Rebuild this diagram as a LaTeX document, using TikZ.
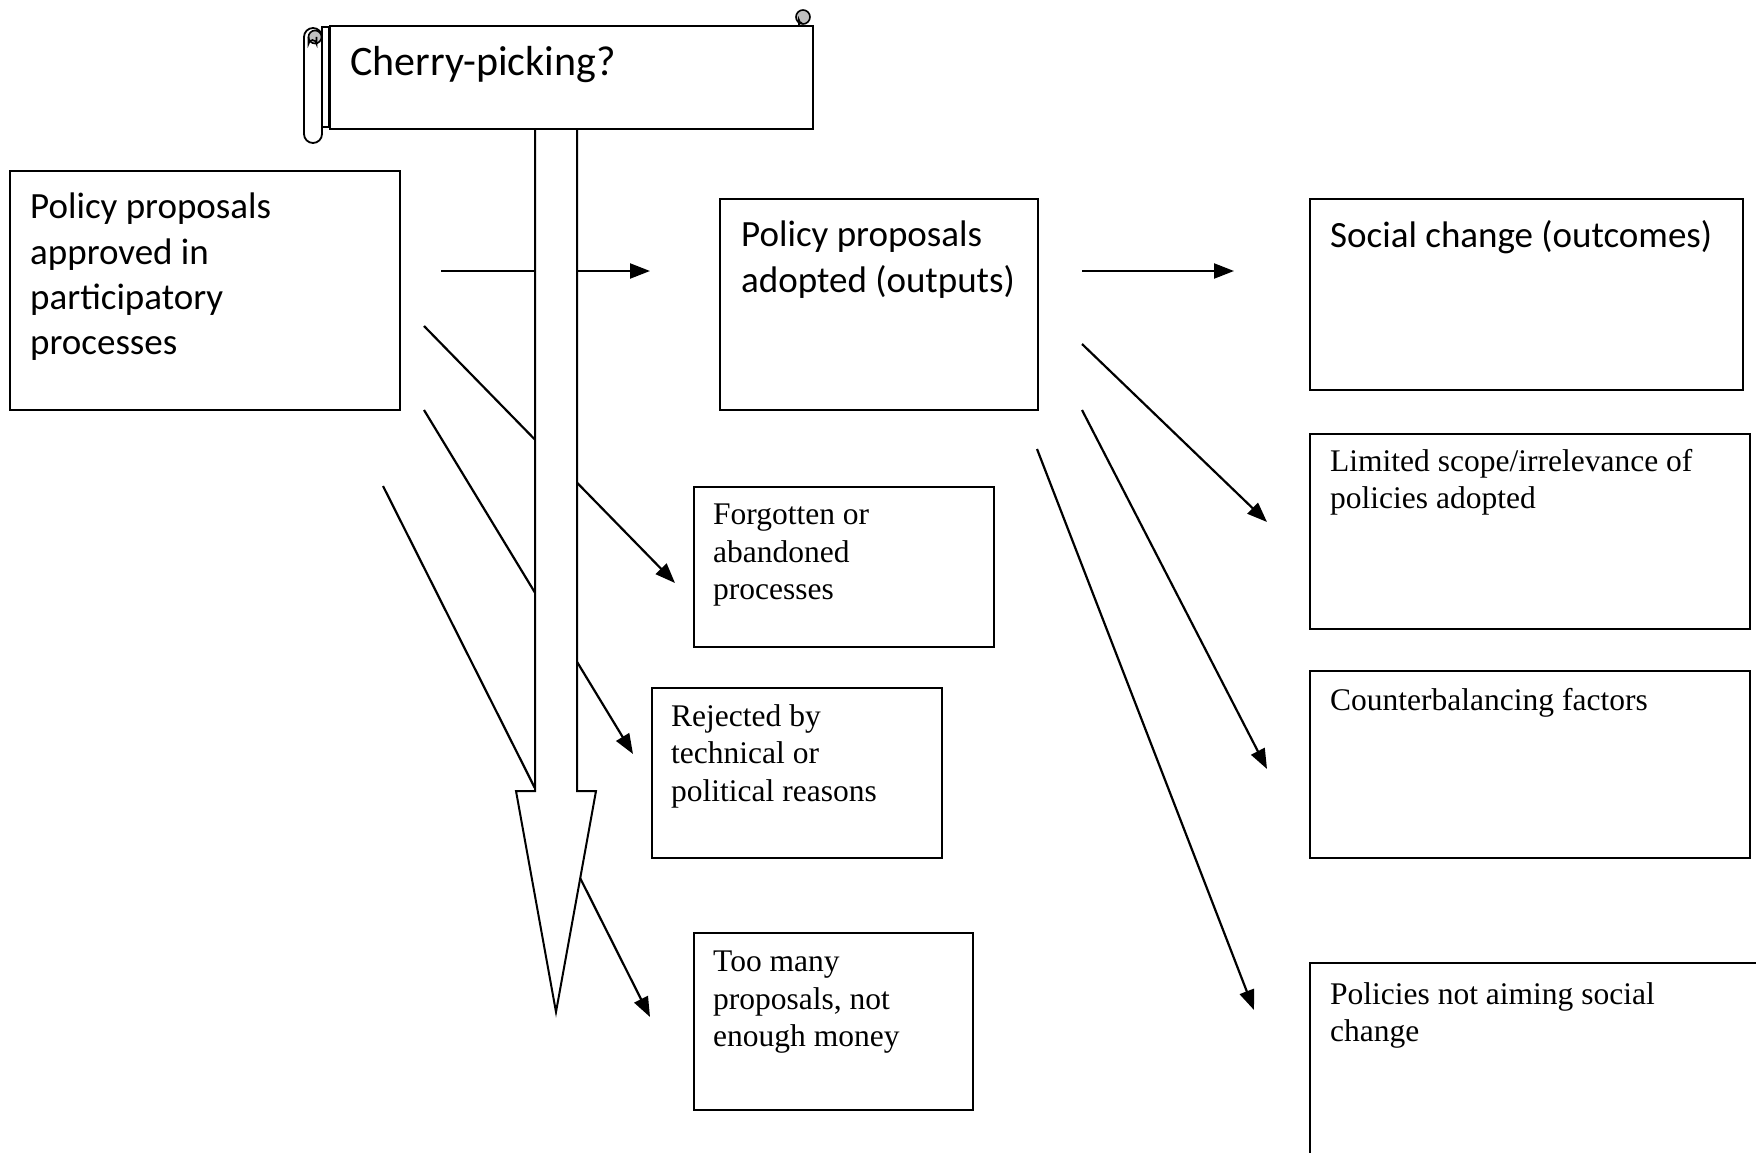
\documentclass[tikz,border=0pt]{standalone}
\usepackage{fontspec}
\setmainfont{Liberation Serif}
\newfontfamily\calibri{Carlito}
\usetikzlibrary{arrows.meta,calc}
\begin{document}
\begin{tikzpicture}[x=1pt,y=-1pt,
  box/.style={draw, line width=2pt, fill=white, inner sep=0pt, anchor=north west},
  cal/.style={font=\calibri\fontsize{37}{45.2}\selectfont, align=left, anchor=north west, inner sep=0pt},
  tim/.style={font=\fontsize{31.5}{37.5}\selectfont, align=left, anchor=north west, inner sep=0pt},
  conn/.style={line width=2.2pt, -{Triangle[length=20pt,width=15pt]}},
  outline/.style={draw, line width=2pt, fill=white, line join=miter}]
\path[use as bounding box] (0,0) rectangle (1756,1153);
\clip (0,0) rectangle (1756,1153);

% boxes
\node[box, minimum width=390pt, minimum height=239pt] (A) at (9,170) {};
\node[box, minimum width=318pt, minimum height=211pt] (B) at (719,198) {};
\node[box, minimum width=433pt, minimum height=191pt] (C) at (1309,198) {};
\node[box, minimum width=440pt, minimum height=195pt] (D) at (1309,433) {};
\node[box, minimum width=440pt, minimum height=187pt] (E) at (1309,670) {};
\node[box, minimum width=500pt, minimum height=300pt] (F) at (1309,962) {};
\node[box, minimum width=300pt, minimum height=160pt] (G) at (693,486) {};
\node[box, minimum width=290pt, minimum height=170pt] (H) at (651,687) {};
\node[box, minimum width=279pt, minimum height=177pt] (I) at (693,932) {};

% texts
\node[cal] (At) at (30,193) {Policy proposals\\approved in\\participatory\\processes};
\node[cal] (Bt) at (741,221) {Policy proposals\\adopted (outputs)};
\node[cal] (Ct) at (1330,220) {Social change (outcomes)};
\node[tim] (Dt) at (1330,449) {Limited scope/irrelevance of\\policies adopted};
\node[tim] (Et) at (1330,688) {Counterbalancing factors};
\node[tim] (Ft) at (1330,982) {Policies not aiming social\\change};
\node[tim] (Gt) at (713,504) {Forgotten or\\abandoned\\processes};
\node[tim] (Ht) at (671,704) {Rejected by\\technical or\\political reasons};
\node[tim] (It) at (713,951) {Too many\\proposals, not\\enough money};

% connector end points
\coordinate (a1) at (441,271);   \coordinate (a1e) at (650,271);
\coordinate (b1) at (1082,271);  \coordinate (b1e) at (1234,271);
\coordinate (a2) at (424,326);   \coordinate (a2e) at (675,583);
\coordinate (a3) at (424,410);   \coordinate (a3e) at (633,754);
\coordinate (a4) at (383,486);   \coordinate (a4e) at (650,1017);
\coordinate (b2) at (1082,344);  \coordinate (b2e) at (1267,522);
\coordinate (b3) at (1082,410);  \coordinate (b3e) at (1267,769);
\coordinate (b4) at (1037,449);  \coordinate (b4e) at (1254,1010);

\draw[conn] (a1) -- (a1e);
\draw[conn] (b1) -- (b1e);
\draw[conn] (a2) -- (a2e);
\draw[conn] (a3) -- (a3e);
\draw[conn] (a4) -- (a4e);
\draw[conn] (b2) -- (b2e);
\draw[conn] (b3) -- (b3e);
\draw[conn] (b4) -- (b4e);

% big hollow arrow
\draw[outline] (535,127) -- (535,791) -- (516,791) -- (556,1012) -- (596,791)
  -- (577,791) -- (577,127) -- cycle;

% scroll
\draw[line width=1.6pt, fill=black!25] (803,17) circle (7);
\draw[line width=1.6pt, fill=white] (322,27) rectangle (329,127);
\draw[line width=1.8pt, fill=white, rounded corners=9pt] (304,28) rectangle (322,143);
\draw[line width=1.6pt, fill=black!25] (315,37) circle (6.5);
\draw[line width=1.6pt] (308.5,37) -- (308.5,44) arc (180:360:4) -- (316.5,37);
\node[box, line width=2pt, minimum width=483pt, minimum height=103pt] (S) at (329,25) {};
\draw[line width=1.6pt] (799,25) -- (799,20) arc (180:90:3);
\node[cal, font=\calibri\fontsize{42}{50}\selectfont] (St) at (350,46) {Cherry-picking?};
\end{tikzpicture}
\end{document}
